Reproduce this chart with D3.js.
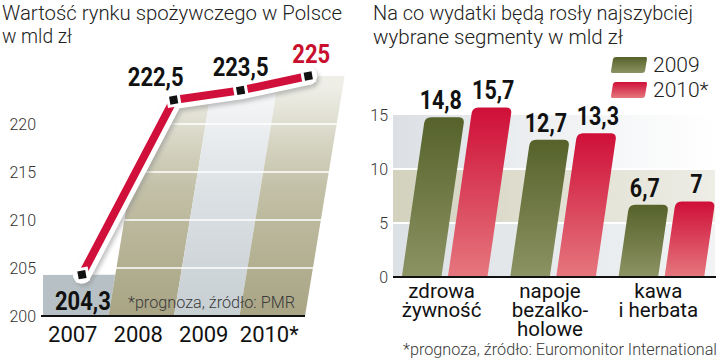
<!DOCTYPE html>
<html>
<head>
<meta charset="utf-8">
<script src="https://cdnjs.cloudflare.com/ajax/libs/d3/7.8.5/d3.min.js"></script>
<style>
  html, body { margin: 0; padding: 0; background: #fff; }
  svg { display: block; font-family: Roboto, "Open Sans", sans-serif; }
</style>
</head>
<body>
<script>
// ---------- DATA ----------
const years = ["2007", "2008", "2009", "2010*"];
const marketValues = [204.3, 222.5, 223.5, 225];
const marketLabels = ["204,3", "222,5", "223,5", "225"];
const leftTicks = [200, 205, 210, 215, 220];

const segments = [["zdrowa", "żywność"], ["napoje", "bezalko-", "holowe"], ["kawa", "i herbata"]];
const seriesNames = ["2009", "2010*"];
const values2009 = [14.8, 12.7, 6.7];
const values2010 = [15.7, 13.3, 7];
const labels2009 = ["14,8", "12,7", "6,7"];
const labels2010 = ["15,7", "13,3", "7"];
const rightTicks = [0, 5, 10, 15];

// ---------- SETUP ----------
const svg = d3.select("body").append("svg").attr("width", 720).attr("height", 358);
svg.append("rect").attr("width", 720).attr("height", 358).attr("fill", "#fff");
const defs = svg.append("defs");

function linGrad(id, stops, attrs) {
  const g = defs.append("linearGradient").attr("id", id);
  Object.entries(attrs).forEach(([k, v]) => g.attr(k, v));
  stops.forEach(s => g.append("stop").attr("offset", s[0]).attr("stop-color", s[1]));
}
linGrad("olive", [[0, "#a8a484"], [0.55, "#c2c0a6"], [1, "#efefe8"]],
  {gradientUnits: "userSpaceOnUse", x1: 0, x2: 0, y1: 316, y2: 85});
linGrad("light", [[0, "#c7cfd3"], [0.55, "#dce1e4"], [1, "#f7f8f9"]],
  {gradientUnits: "userSpaceOnUse", x1: 0, x2: 0, y1: 316, y2: 85});
linGrad("gbar", [[0, "#56622a"], [1, "#8c9364"]], {x1: 0, x2: 0, y1: 0, y2: 1});
linGrad("rbar", [[0, "#cf0f38"], [1, "#e5777e"]], {x1: 0, x2: 0, y1: 0, y2: 1});
linGrad("band0", [[0, "#dce1e5"], [1, "#f1f3f4"]], {x1: 0, x2: 1, y1: 0, y2: 0});
linGrad("band1", [[0, "#d3d2be"], [1, "#eeede6"]], {x1: 0, x2: 1, y1: 0, y2: 0});
linGrad("band2", [[0, "#dce0e4"], [0.7, "#f6f7f8"], [1, "#ffffff"]], {x1: 0, x2: 1, y1: 0, y2: 0});

const blur = defs.append("filter").attr("id", "blur").attr("x", "-20%").attr("y", "-20%").attr("width", "140%").attr("height", "140%");
blur.append("feGaussianBlur").attr("stdDeviation", 2);

// condensed bold number label
function numLabel(g, x, y, txt, anchor, color, size, sx) {
  g.append("text").attr("x", x).attr("y", y).attr("text-anchor", anchor)
    .attr("font-size", size).attr("font-weight", 700).attr("fill", color)
    .attr("transform", `translate(${x},0) scale(${sx},1) translate(${-x},0)`)
    .text(txt);
}

// ---------- LEFT CHART ----------
const yL = d3.scaleLinear().domain([200, 225]).range([316, 76]);
const xL = d3.scaleBand().domain(years).range([43, 305]);
const bwL = xL.bandwidth();
const base = yL(200);
const colSlant = 0.165, ptSlant = 0.15;

const pts = years.map((yr, i) => {
  const y = yL(marketValues[i]);
  return [xL(yr) + bwL / 2 + ptSlant * (base - y), y];
});

const clipPts = [[43, base], [43, pts[0][1]], ...pts, [350, pts[3][1]], [350, base]];
defs.append("clipPath").attr("id", "underLine")
  .append("path").attr("d", "M" + clipPts.map(p => p.join(",")).join("L") + "Z");

const colFill = ["#b7c1c5", "url(#olive)", "url(#light)", "url(#olive)"];
const gL = svg.append("g");
const cols = gL.append("g").attr("clip-path", "url(#underLine)");
years.forEach((yr, i) => {
  const bx = xL(yr);
  const top = i === 0 ? yL(marketValues[0]) : yL(225) - 20;
  const s = colSlant * (base - top);
  const tl = i === 0 ? bx : bx + s;
  const p = [[bx, base], [bx + bwL, base], [bx + bwL + s, top], [tl, top]];
  cols.append("path").attr("d", "M" + p.map(q => q.join(",")).join("L") + "Z").attr("fill", colFill[i]);
});

gL.append("g").selectAll("line").data(leftTicks.filter(t => t > 200)).join("line")
  .attr("x1", 43).attr("x2", 345).attr("y1", d => yL(d)).attr("y2", d => yL(d))
  .attr("stroke", "#fff").attr("stroke-width", 1.6);

gL.append("line").attr("x1", 41).attr("x2", 305).attr("y1", base).attr("y2", base)
  .attr("stroke", "#111").attr("stroke-width", 2);
gL.append("g").selectAll("text").data(leftTicks).join("text")
  .attr("x", 36).attr("y", d => yL(d)).attr("dy", "0.36em")
  .attr("text-anchor", "end").attr("font-size", 16).attr("font-weight", 300).attr("fill", "#333")
  .text(d => d);
gL.append("g").selectAll("text").data(years).join("text")
  .attr("x", d => xL(d) + bwL / 2 - 3).attr("y", 342)
  .attr("text-anchor", "middle").attr("font-size", 22).attr("fill", "#111")
  .text(d => d);

gL.append("text").attr("x", 128).attr("y", 308).attr("font-size", 17).attr("font-weight", 300)
  .attr("fill", "#3a3a3a").attr("textLength", 167).attr("lengthAdjust", "spacingAndGlyphs")
  .text("*prognoza, źródło: PMR");

const line = d3.line();
gL.append("path").attr("d", line(pts)).attr("fill", "none").attr("stroke", "#8f8f8f")
  .attr("stroke-width", 18).attr("stroke-linecap", "round").attr("stroke-linejoin", "round")
  .attr("opacity", 0.55).attr("transform", "translate(2,3)").attr("filter", "url(#blur)");
gL.append("path").attr("d", line(pts)).attr("fill", "none").attr("stroke", "#fff")
  .attr("stroke-width", 18).attr("stroke-linecap", "round").attr("stroke-linejoin", "round");
gL.append("path").attr("d", line(pts)).attr("fill", "none").attr("stroke", "#d0103a")
  .attr("stroke-width", 8).attr("stroke-linejoin", "round");
const mk = gL.append("g").selectAll("g").data(pts).join("g")
  .attr("transform", d => `translate(${d[0]},${d[1]}) rotate(-10)`);
mk.append("rect").attr("x", -7).attr("y", -7).attr("width", 14).attr("height", 14).attr("fill", "#fff");
mk.append("rect").attr("x", -4).attr("y", -4).attr("width", 8).attr("height", 8).attr("fill", "#111");

marketLabels.forEach((lab, i) => {
  const [px, py] = pts[i];
  let x = px, y = py - 14, anchor = "middle";
  if (i === 0) { x = px + 1; y = py + 35; }
  if (i === 1) { x = px + 10; anchor = "end"; }
  if (i === 3) { x = px + 3; y = py - 13; }
  numLabel(gL, x, y, lab, anchor, i === 3 ? "#c8102e" : "#111", 25, 0.88);
});

// titles
const titleAttrs = (t) => t.attr("font-size", 20.5).attr("font-weight", 300).attr("fill", "#222")
  .attr("lengthAdjust", "spacingAndGlyphs");
titleAttrs(svg.append("text").attr("x", 2).attr("y", 20).attr("textLength", 340)).text("Wartość rynku spożywczego w Polsce");
titleAttrs(svg.append("text").attr("x", 2).attr("y", 43).attr("textLength", 70)).text("w mld zł");
titleAttrs(svg.append("text").attr("x", 373).attr("y", 20).attr("textLength", 320)).text("Na co wydatki będą rosły najszybciej");
titleAttrs(svg.append("text").attr("x", 373).attr("y", 44).attr("textLength", 250)).text("wybrane segmenty w mld zł");

// ---------- RIGHT CHART ----------
const yR = d3.scaleLinear().domain([0, 15]).range([277, 115]);
const catKeys = segments.map(s => s.join(" "));
const x0 = d3.scaleBand().domain(catKeys).range([391, 715]).paddingInner(0.21).paddingOuter(0.1);
const x1 = d3.scaleBand().domain(seriesNames).range([0, x0.bandwidth()]).paddingInner(0.14);
const barSlant = 0.145;
const gR = svg.append("g");

const bandFills = ["url(#band0)", "url(#band1)", "url(#band2)"];
d3.pairs(rightTicks).forEach(([a, b], i) => {
  gR.append("rect").attr("x", 393).attr("width", 322).attr("y", yR(b)).attr("height", yR(a) - yR(b))
    .attr("fill", bandFills[i]);
});
gR.append("g").selectAll("line").data(rightTicks.slice(1, -1)).join("line")
  .attr("x1", 393).attr("x2", 715).attr("y1", d => yR(d)).attr("y2", d => yR(d))
  .attr("stroke", "#fff").attr("stroke-width", 2);

function barPath(x, w, y0, yT, sl, r) {
  const s = sl * (y0 - yT);
  return `M${x},${y0}L${x + w},${y0}L${x + w + s - sl * r},${yT + r}` +
    `Q${x + w + s},${yT} ${x + w + s - r},${yT}L${x + s + r},${yT}` +
    `Q${x + s},${yT} ${x + s - sl * r},${yT + r}Z`;
}

const seriesVals = [values2009, values2010];
const seriesLabs = [labels2009, labels2010];
const barFills = ["url(#gbar)", "url(#rbar)"];
const labShift = [-4, 1];
catKeys.forEach((c, ci) => {
  seriesNames.forEach((sn, si) => {
    const v = seriesVals[si][ci];
    const bx = x0(c) + x1(sn);
    const w = x1.bandwidth();
    const y0 = yR(0), yT = yR(v);
    gR.append("path").attr("d", barPath(bx, w, y0, yT, barSlant, 6)).attr("fill", barFills[si]);
    const cx = bx + w / 2 + barSlant * (y0 - yT) + labShift[si];
    numLabel(gR, cx, yT - 8, seriesLabs[si][ci], "middle", "#111", 25, 0.86);
  });
});

gR.append("line").attr("x1", 393).attr("x2", 716).attr("y1", yR(0)).attr("y2", yR(0))
  .attr("stroke", "#111").attr("stroke-width", 2);
gR.append("g").selectAll("text").data(rightTicks).join("text")
  .attr("x", 388).attr("y", d => yR(d)).attr("dy", "0.36em").attr("text-anchor", "end")
  .attr("font-size", 16).attr("font-weight", 300).attr("fill", "#333").text(d => d);

segments.forEach((lines, ci) => {
  const cx = x0(catKeys[ci]) + x0.bandwidth() / 2 - 3;
  const t = gR.append("text").attr("text-anchor", "middle").attr("font-size", 20.5).attr("fill", "#111");
  lines.forEach((ln, li) => t.append("tspan").attr("x", cx).attr("y", 298 + li * 19).text(ln));
});

gR.append("text").attr("x", 403).attr("y", 355).attr("font-size", 16.5).attr("font-weight", 300)
  .attr("fill", "#3a3a3a").attr("textLength", 314).attr("lengthAdjust", "spacingAndGlyphs")
  .text("*prognoza, źródło: Euromonitor International");

const legY = d3.scalePoint().domain(seriesNames).range([65, 90]);
const leg = gR.append("g").selectAll("g").data(seriesNames).join("g")
  .attr("transform", d => `translate(613,${legY(d)})`);
leg.append("path").attr("d", "M3,-8L33,-8Q34,-8 34,-6L32,6Q31.5,8 29,8L-1,8Q-2,8 -2,6L0,-6Q0.5,-8 3,-8Z")
  .attr("fill", (d, i) => barFills[i]);
leg.append("text").attr("x", 40).attr("y", 7).attr("font-size", 21).attr("font-weight", 300)
  .attr("fill", "#222").text(d => d);
</script>
</body>
</html>
